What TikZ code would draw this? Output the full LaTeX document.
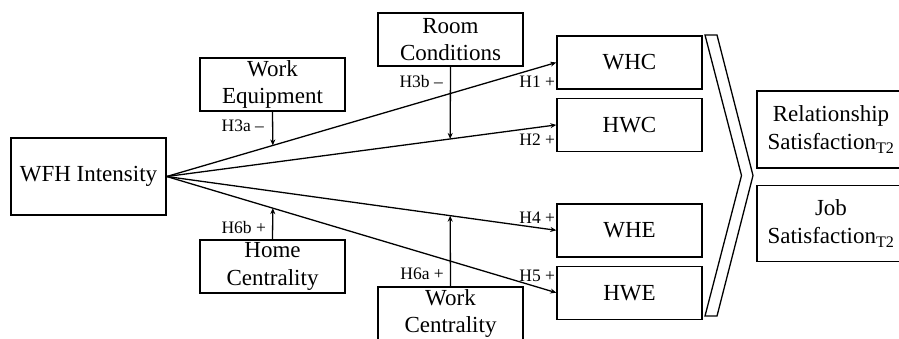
\documentclass[tikz,border=0pt]{standalone}
\usepackage{fontspec}
\setmainfont{Liberation Serif}
\usetikzlibrary{arrows.meta,positioning}

\begin{document}
\begin{tikzpicture}[
  x=1pt, y=-1pt,
  box/.style={
    rectangle,
    draw=black,
    line width=1.4pt,
    align=center,
    inner sep=0pt,
    minimum width=145pt,
    minimum height=53pt,
    font=\fontsize{23}{27.5}\selectfont
  },
  bigbox/.style={box,minimum height=77pt},
  hyp/.style={font=\fontsize{17.5}{19}\selectfont,inner sep=0pt},
  arrow/.style={-{Stealth[length=6pt,width=5pt]},line width=1.3pt}
]
\clip (0,0) rectangle (899,338);

% predictor and moderators
\node[bigbox,minimum width=155pt] (wfh) at (88.5,176.5) {WFH Intensity};
\node[box] (equip) at (272.5,84.5) {Work\\Equipment};
\node[box] (room) at (450.5,39.5) {Room\\Conditions};
\node[box] (home) at (272.5,266.5) {Home\\Centrality};
\node[box] (workc) at (450.5,313.5) {Work\\Centrality};

% conflict and enrichment
\node[box] (whc) at (629.5,62.5) {WHC};
\node[box,below=8pt of whc] (hwc) {HWC};
\node[box,below=51pt of hwc] (whe) {WHE};
\node[box,below=8pt of whe] (hwe) {HWE};

% outcomes
\node[bigbox,minimum width=148pt] (rel) at (831,129.5) {Relationship\\Satisfaction\textsubscript{T2}};
\node[bigbox,minimum width=148pt,minimum height=76pt,below=16pt of rel] (job) {Job\\Satisfaction\textsubscript{T2}};

\draw[line width=1.3pt] (705,35) -- (717,35) -- (753,175.5) -- (717,316)
  -- (705,316) -- (741.5,175.5) -- cycle;

\draw[arrow] (wfh.east) -- (whc.west) coordinate[pos=0.2724] (m3a);
\draw[arrow] (wfh.east) -- (hwc.west) coordinate[pos=0.7276] (m3b);
\draw[arrow] (wfh.east) -- (whe.west) coordinate[pos=0.7276] (m6a);
\draw[arrow] (wfh.east) -- (hwe.west) coordinate[pos=0.2724] (m6b);

\node[hyp,anchor=south east] (h1) at ([shift={(-1pt,2pt)}]whc.south west) {H1 +};
\node[hyp,anchor=south east] (h2) at ([shift={(-1pt,6pt)}]hwc.south west) {H2 +};
\node[hyp,anchor=north east] (h4) at ([shift={(-1pt,-9pt)}]whe.north west) {H4 +};
\node[hyp,anchor=north east] (h5) at ([shift={(-1pt,-4pt)}]hwe.north west) {H5 +};

\draw[arrow] (equip.south) -- node[hyp,left=8pt,pos=0.43] {H3a --} (m3a);
\draw[arrow] (room.south) -- node[hyp,left=7pt,pos=0.21] {H3b --} (m3b);
\draw[arrow] (home.north) -- node[hyp,left=6pt,pos=0.39] {H6b +} (m6b);
\draw[arrow] (workc.north) -- node[hyp,left=6pt,pos=0.18] {H6a +} (m6a);
\end{tikzpicture}
\end{document}
